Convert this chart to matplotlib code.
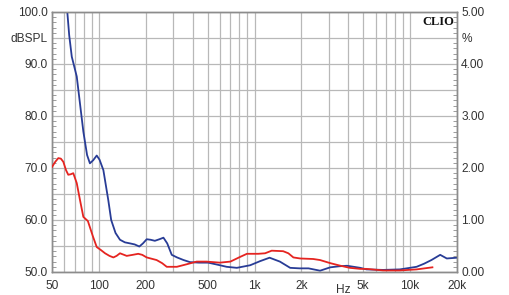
import matplotlib
matplotlib.use("Agg")
import matplotlib.pyplot as plt
from matplotlib.ticker import FixedLocator, NullFormatter
import matplotlib.transforms as mtransforms

# Frequency response (dB SPL, left axis)
spl_freq = [62.0, 62.7, 64.5, 67.0, 72.1, 79.5, 84.0, 87.6, 92.0, 96.9, 101.0, 106.9, 115, 120, 128,
            136.7, 147, 158.6, 170, 182, 192, 203, 215, 229, 245, 260, 275, 294, 318, 350,
            385, 440, 504, 580, 662, 770, 938, 1089, 1250, 1456, 1695, 1950, 2223, 2637,
            3070, 3500, 3929, 4780, 5240, 6700, 8590, 11000, 12300, 13700, 15600, 17200, 20000]
spl_db = [101.0, 100.0, 95.5, 91.4, 87.6, 77.0, 72.5, 70.9, 71.5, 72.4, 71.6, 69.6, 63.8, 60.0, 57.5,
          56.2, 55.7, 55.5, 55.3, 54.9, 55.5, 56.3, 56.2, 56.0, 56.3, 56.6, 55.5, 53.3, 52.8, 52.3,
          51.9, 51.8, 51.8, 51.4, 51.0, 50.8, 51.3, 52.1, 52.75, 52.0, 50.8, 50.7, 50.7, 50.25,
          50.9, 51.1, 51.2, 50.8, 50.5, 50.4, 50.5, 51.0, 51.6, 52.3, 53.3, 52.6, 52.75]

# Distortion (%, right axis)
thd_freq = [50, 52.5, 54.9, 57, 59.1, 61.5, 63.6, 66, 68.5, 72.1, 75.7, 79.5, 85, 91.7, 96.9,
            103.3, 109.6, 117, 124, 130, 136.7, 151, 165, 179, 190, 203, 235, 255, 273, 317,
            368, 425, 491, 598, 700, 808, 894, 1058, 1170, 1290, 1528, 1650, 1778, 1967, 2383,
            2637, 3070, 3570, 4100, 4780, 5240, 6700, 8590, 11000, 13900]
thd_pct = [2.02, 2.12, 2.19, 2.18, 2.12, 1.96, 1.87, 1.88, 1.90, 1.71, 1.38, 1.06, 0.98, 0.68, 0.48,
           0.42, 0.36, 0.31, 0.28, 0.31, 0.36, 0.31, 0.33, 0.35, 0.33, 0.28, 0.23, 0.17, 0.10, 0.10,
           0.15, 0.20, 0.20, 0.18, 0.20, 0.29, 0.35, 0.35, 0.36, 0.41, 0.40, 0.36, 0.28, 0.26, 0.25,
           0.23, 0.17, 0.12, 0.08, 0.06, 0.06, 0.03, 0.03, 0.05, 0.09]

x_ticks = [50, 100, 200, 500, 1000, 2000, 5000, 10000, 20000]
x_labels = ["50", "100", "200", "500", "1k", "2k", "5k", "10k", "20k"]
left_ticks = [50, 55, 60, 65, 70, 75, 80, 85, 90, 95, 100]
left_labels = ["50.0", "", "60.0", "", "70.0", "", "80.0", "", "90.0", "dBSPL", "100.0"]
right_ticks = [0, 0.5, 1, 1.5, 2, 2.5, 3, 3.5, 4, 4.5, 5]
right_labels = ["0.00", "", "1.00", "", "2.00", "", "3.00", "", "4.00", "%", "5.00"]

plt.rcParams['font.family'] = ['Liberation Sans', 'DejaVu Sans']
txt = '#333333'
gridc = '#b8b8b8'
spinec = '#8c8c8c'
fs = 8.6

fig = plt.figure(figsize=(5.09, 2.95), dpi=100)
ax = fig.add_axes([52/509, (295-272)/295, 405/509, 260/295])
ax.set_xscale('log')
ax.set_xlim(50, 20000)
ax.set_ylim(50, 100)

minor_x = []
for dec in [10, 100, 1000, 10000]:
    for m in range(1, 10):
        v = m * dec
        if 50 <= v <= 20000 and v not in x_ticks:
            minor_x.append(v)
ax.xaxis.set_major_locator(FixedLocator(x_ticks))
ax.set_xticklabels(x_labels)
ax.xaxis.set_minor_locator(FixedLocator(minor_x))
ax.xaxis.set_minor_formatter(NullFormatter())
ax.tick_params(axis='x', which='both', length=0, pad=6, labelsize=fs, labelcolor=txt)

ax.yaxis.set_major_locator(FixedLocator(left_ticks))
ax.set_yticklabels(left_labels)
ax.yaxis.set_minor_locator(FixedLocator(list(range(50, 101))))
ax.tick_params(axis='y', which='major', length=0, pad=3, labelsize=fs, labelcolor=txt)
ax.tick_params(axis='y', which='minor', length=3, direction='in', color=spinec, width=0.6)

ax.grid(True, which='major', axis='both', color=gridc, linewidth=0.9)
ax.grid(True, which='minor', axis='x', color=gridc, linewidth=0.9)
ax.set_axisbelow(True)

ax2 = ax.twinx()
ax2.set_ylim(0, 5)
ax2.yaxis.set_major_locator(FixedLocator(right_ticks))
ax2.set_yticklabels(right_labels)
ax2.yaxis.set_minor_locator(FixedLocator([i / 10 for i in range(0, 51)]))
ax2.tick_params(axis='y', which='major', length=0, pad=3, labelsize=fs, labelcolor=txt)
ax2.tick_params(axis='y', which='minor', length=3, direction='in', color=spinec, width=0.6)

for a in (ax, ax2):
    for s in a.spines.values():
        s.set_color(spinec)
        s.set_linewidth(1.0)

ax.plot(spl_freq, spl_db, color='#283c96', linewidth=1.3, zorder=3)
ax2.plot(thd_freq, thd_pct, color='#e52420', linewidth=1.3, zorder=3)

trans = mtransforms.blended_transform_factory(ax.transData, ax.transAxes)
ax.text(3706, -0.045, "Hz", transform=trans, ha='center', va='top', fontsize=fs, color=txt)
ax.text(0.993, 0.985, "CLIO", transform=ax.transAxes, ha='right', va='top',
        fontsize=9, fontweight='bold', family='Liberation Serif', color='#111111')

fig.savefig('out.png', dpi=100, facecolor='white')
